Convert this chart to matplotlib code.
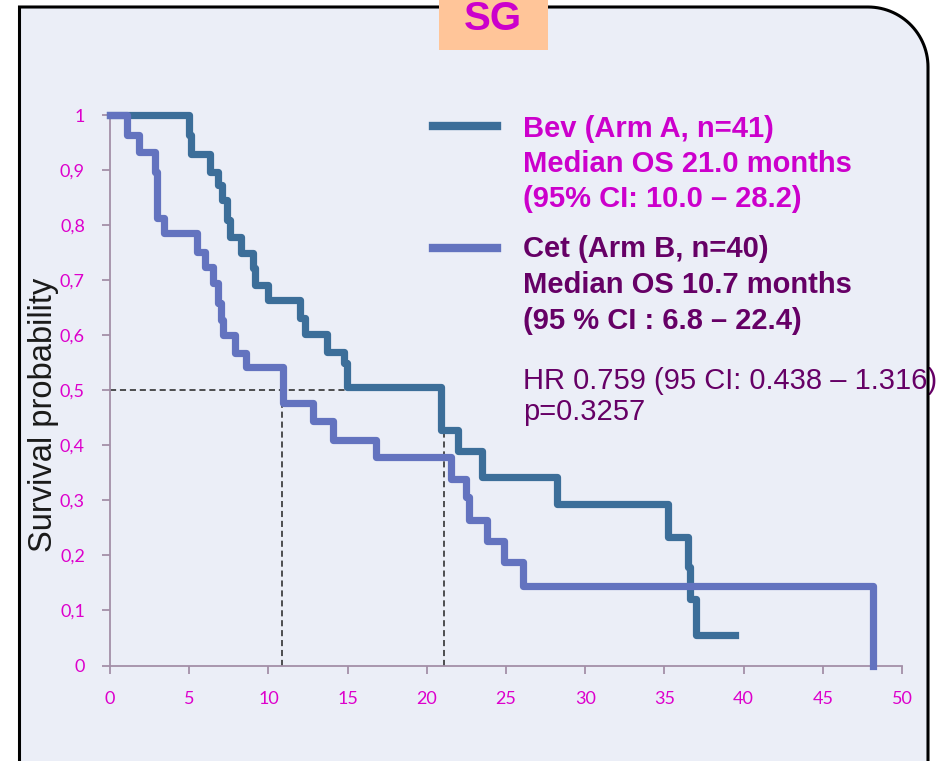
import numpy as np
import matplotlib
matplotlib.use("Agg")
import matplotlib.pyplot as plt
from matplotlib.path import Path
from matplotlib.patches import PathPatch, Rectangle

# ---------------- data ----------------
bev_time = [0, 5.0, 5.1, 6.3, 6.8, 7.1, 7.4, 7.6, 8.3, 9.0, 9.15, 10.0, 12.0, 12.3,
            13.7, 14.8, 14.95, 20.9, 22.0, 23.5, 28.2, 35.2, 36.5, 36.6, 37.0, 39.45]
bev_surv = [1.0, 0.964, 0.930, 0.897, 0.873, 0.845, 0.809, 0.779, 0.749, 0.722, 0.691,
            0.664, 0.631, 0.603, 0.570, 0.549, 0.505, 0.427, 0.390, 0.342, 0.294,
            0.233, 0.179, 0.121, 0.0545, 0.0545]

cet_time = [0, 1.05, 1.85, 2.85, 2.95, 3.4, 5.5, 6.0, 6.5, 6.8, 7.0, 7.15, 7.9, 8.6,
            10.95, 12.8, 14.1, 16.8, 21.5, 22.5, 22.65, 23.8, 24.9, 26.1, 48.2]
cet_surv = [1.0, 0.964, 0.933, 0.897, 0.812, 0.785, 0.752, 0.724, 0.694, 0.658, 0.627,
            0.600, 0.567, 0.542, 0.476, 0.445, 0.410, 0.378, 0.339, 0.306, 0.264,
            0.227, 0.188, 0.145, 0.0]

median_level = 0.5
median_times = [10.85, 21.1]

x_ticks = [0, 5, 10, 15, 20, 25, 30, 35, 40, 45, 50]
y_ticks = [0, 0.1, 0.2, 0.3, 0.4, 0.5, 0.6, 0.7, 0.8, 0.9, 1.0]
y_tick_labels = ["0", "0,1", "0,2", "0,3", "0,4", "0,5", "0,6", "0,7", "0,8", "0,9", "1"]

bev_lines = ["Bev (Arm A, n=41)", "Median OS 21.0 months", "(95% CI: 10.0 \u2013 28.2)"]
cet_lines = ["Cet (Arm B, n=40)", "Median OS 10.7 months", "(95 % CI : 6.8 \u2013 22.4)"]
hr_lines = ["HR 0.759 (95 CI: 0.438 \u2013 1.316)", "p=0.3257"]
title = "SG"
y_label = "Survival probability"

# ---------------- styling ----------------
W, H = 937, 761
BEV_C = "#3C6E99"
CET_C = "#6373BF"
MAG = "#CC00CC"
DPUR = "#660066"
TICK_C = "#DD00CC"
SPINE_C = "#A38FA8"
PANEL_C = "#EBEEF7"

fig = plt.figure(figsize=(W / 100, H / 100), dpi=100)
fig.patch.set_facecolor("white")

def fx(px):
    return px / W

def fy(py):
    return 1 - py / H

# panel (rounded top-right corner)
L, R, T, B, rad = 19.5, 928, 7, 775, 60
ang = np.linspace(np.pi / 2, 0, 30)
arc = [(R - rad + rad * np.cos(a), T + rad - rad * np.sin(a)) for a in ang]
pts = [(L, B), (L, T)] + arc + [(R, B)]
fpts = [(fx(x), fy(y)) for x, y in pts]
fill_path = Path(fpts + [fpts[0]], [Path.MOVETO] + [Path.LINETO] * (len(fpts) - 1) + [Path.CLOSEPOLY])
fig.add_artist(PathPatch(fill_path, transform=fig.transFigure, facecolor=PANEL_C,
                         edgecolor="none", zorder=-10))
line_path = Path(fpts, [Path.MOVETO] + [Path.LINETO] * (len(fpts) - 1))
fig.add_artist(PathPatch(line_path, transform=fig.transFigure, facecolor="none",
                         edgecolor="black", lw=2.2, zorder=20))

# title box
fig.add_artist(Rectangle((fx(439), fy(50)), fx(548) - fx(439), fy(0) - fy(50),
                         transform=fig.transFigure, facecolor="#FFC599", edgecolor="none", zorder=25))
fig.text(fx(493), fy(30), title, ha="center", va="baseline", color=MAG,
         fontsize=29, fontweight="bold", family="Liberation Sans", zorder=26)

# axes
ax = fig.add_axes([fx(110), 1 - 665.5 / H, fx(902) - fx(110), (665.5 - 115) / H])
ax.set_facecolor("none")
ax.set_xlim(0, 50)
ax.set_ylim(0, 1)
for s in ["top", "right"]:
    ax.spines[s].set_visible(False)
for s in ["left", "bottom"]:
    ax.spines[s].set_color(SPINE_C)
    ax.spines[s].set_linewidth(1.3)
ax.set_xticks(x_ticks)
ax.set_xticklabels([str(v) for v in x_ticks])
ax.set_yticks(y_ticks)
ax.set_yticklabels(y_tick_labels)
ax.tick_params(axis="both", colors=SPINE_C, length=6, width=1.3, labelcolor=TICK_C,
               labelsize=13, pad=12)
for lab in ax.get_xticklabels() + ax.get_yticklabels():
    lab.set_family("Lato")
fig.text(fx(44), fy(415), y_label, rotation=90, ha="center", va="center",
         fontsize=23.5, family="Liberation Sans", color="#1A1A1A")

# median reference lines
ax.plot([0, median_times[1]], [median_level, median_level], color="#222222", lw=1.1,
        ls=(0, (4, 2.5)), zorder=1)
for t in median_times:
    ax.plot([t, t], [0, median_level], color="#222222", lw=1.1, ls=(0, (4, 2.5)), zorder=1)

# KM curves
ax.step(bev_time, bev_surv, where="post", color=BEV_C, lw=5.2, zorder=3, clip_on=False,
        solid_joinstyle="round")
ax.step(cet_time, cet_surv, where="post", color=CET_C, lw=5.2, zorder=4, clip_on=False,
        solid_joinstyle="round")

# legend samples and texts
fig.add_artist(plt.Line2D([fx(433), fx(497)], [fy(126), fy(126)], color=BEV_C, lw=6,
                          transform=fig.transFigure))
fig.add_artist(plt.Line2D([fx(433), fx(497)], [fy(248), fy(248)], color=CET_C, lw=6,
                          transform=fig.transFigure))
for i, s in enumerate(bev_lines):
    fig.text(fx(523), fy(137 + 35 * i), s, color=MAG, fontsize=21, fontweight="bold",
             family="Liberation Sans", va="baseline", ha="left")
for i, s in enumerate(cet_lines):
    fig.text(fx(523), fy(257 + 36 * i), s, color=DPUR, fontsize=21, fontweight="bold",
             family="Liberation Sans", va="baseline", ha="left")
for i, s in enumerate(hr_lines):
    fig.text(fx(523), fy(389 + 31 * i), s, color=DPUR, fontsize=21, family="Liberation Sans",
             va="baseline", ha="left", zorder=5)

fig.savefig("out.png", dpi=100)
